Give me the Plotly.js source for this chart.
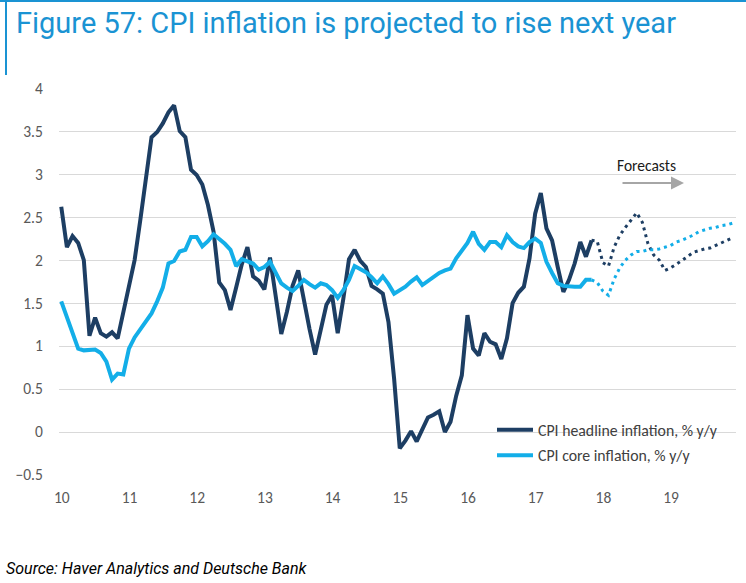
<!DOCTYPE html>
<html>
<head>
<meta charset="utf-8">
<script src="https://cdn.plot.ly/plotly-3.0.1.min.js"></script>
<style>
  html, body { margin: 0; padding: 0; background: #ffffff; }
  #chart { width: 746px; height: 583px; }
</style>
</head>
<body>
<div id="chart"></div>
<script>
// ---------------- DATA ----------------
// Monthly series starting Jan 2010 (index 0)
const startYear = 2010;
const headline = [
  2.62, 2.15, 2.28, 2.20, 2.00, 1.12, 1.33, 1.15, 1.11, 1.16, 1.09, 1.38,
  1.66, 2.00, 2.46, 2.97, 3.43, 3.49, 3.59, 3.72, 3.80, 3.50, 3.43, 3.05,
  2.99, 2.88, 2.64, 2.33, 1.74, 1.65, 1.42, 1.68, 1.95, 2.15, 1.81, 1.76,
  1.66, 2.03, 1.55, 1.14, 1.40, 1.70, 1.88, 1.52, 1.20, 0.90, 1.20, 1.48,
  1.59, 1.15, 1.55, 2.01, 2.12, 1.99, 1.92, 1.70, 1.66, 1.61, 1.28, 0.62,
  -0.19, -0.10, 0.01, -0.11, 0.03, 0.17, 0.20, 0.24, 0.00, 0.12, 0.42, 0.66,
  1.36, 0.97, 0.89, 1.15, 1.05, 1.02, 0.85, 1.09, 1.50, 1.62, 1.69, 2.02,
  2.54, 2.78, 2.37, 2.23, 1.92, 1.63, 1.77, 1.96, 2.21, 2.04, 2.23
];
const core = [
  1.52, 1.33, 1.15, 0.97, 0.95, 0.95, 0.96, 0.92, 0.82, 0.61, 0.68, 0.67,
  0.97, 1.10, 1.20, 1.28, 1.38, 1.52, 1.68, 1.96, 1.99, 2.10, 2.12, 2.27,
  2.27, 2.16, 2.22, 2.30, 2.25, 2.19, 2.12, 1.93, 2.01, 1.98, 1.96, 1.89,
  1.92, 1.98, 1.85, 1.73, 1.68, 1.64, 1.70, 1.77, 1.72, 1.68, 1.73, 1.71,
  1.65, 1.56, 1.65, 1.77, 1.93, 1.90, 1.86, 1.80, 1.73, 1.81, 1.72, 1.61,
  1.65, 1.69, 1.75, 1.80, 1.71, 1.76, 1.80, 1.85, 1.88, 1.90, 2.02, 2.12,
  2.20, 2.33, 2.19, 2.12, 2.21, 2.21, 2.15, 2.29, 2.21, 2.16, 2.14, 2.21,
  2.25, 2.20, 1.98, 1.85, 1.73, 1.70, 1.69, 1.69, 1.69, 1.77, 1.77
];
// Forecasts: monthly from Nov 2017 (index 94) to Dec 2019 (index 119)
const forecastStart = 94;
const headlineForecast = [
  2.23, 2.22, 1.97, 1.93, 2.15, 2.29, 2.38, 2.47, 2.55, 2.44, 2.19, 2.06, 2.00,
  1.88, 1.91, 1.95, 1.99, 2.04, 2.09, 2.11, 2.13, 2.14, 2.17, 2.20, 2.23, 2.26
];
const coreForecast = [
  1.77, 1.74, 1.64, 1.59, 1.78, 1.91, 2.00, 2.06, 2.10, 2.10, 2.12, 2.12, 2.13,
  2.15, 2.17, 2.21, 2.23, 2.26, 2.29, 2.33, 2.35, 2.37, 2.38, 2.40, 2.41, 2.43
];
const tickYears = [2010, 2011, 2012, 2013, 2014, 2015, 2016, 2017, 2018, 2019];
const tickLabels = ["10", "11", "12", "13", "14", "15", "16", "17", "18", "19"];
const seriesNames = ["CPI headline inflation, % y/y", "CPI core inflation, % y/y"];
const titleText = "Figure 57: CPI inflation is projected to rise next year";
const sourceText = "Source: Haver Analytics and Deutsche Bank";
const forecastLabel = "Forecasts";

// ---------------- LAYOUT HELPERS ----------------
const W = 746, H = 583;
const M = { l: 59, r: 10, t: 88, b: 108 };
const PW = W - M.l - M.r, PH = H - M.t - M.b;
const px2x = (px) => (px - M.l) / PW;          // paper x
const py2y = (py) => (H - M.b - py) / PH;      // paper y

const monthX = (i) => startYear + (i + 0.4) / 12;
const xs = (arr, off) => arr.map((_, i) => monthX(i + off));

const navy = "#1d3e63";
const sky = "#13aee8";
const blue = "#1a93d3";
const tickFont = { family: "Carlito, Lato, 'Open Sans', sans-serif", size: 15.5, color: "#595959" };

const traces = [
  { x: xs(headline, 0), y: headline, type: "scatter", mode: "lines", name: seriesNames[0],
    line: { color: navy, width: 4 }, legendgroup: "a", hoverinfo: "skip" },
  { x: xs(core, 0), y: core, type: "scatter", mode: "lines", name: seriesNames[1],
    line: { color: sky, width: 4 }, legendgroup: "b", hoverinfo: "skip" },
  { x: xs(headlineForecast, forecastStart), y: headlineForecast, type: "scatter", mode: "lines",
    showlegend: false, line: { color: navy, width: 3, dash: "3px,4px" }, hoverinfo: "skip" },
  { x: xs(coreForecast, forecastStart), y: coreForecast, type: "scatter", mode: "lines",
    showlegend: false, line: { color: sky, width: 3, dash: "3px,4px" }, hoverinfo: "skip" }
];

const layout = {
  width: W, height: H,
  margin: M,
  paper_bgcolor: "#ffffff", plot_bgcolor: "#ffffff",
  showlegend: true,
  legend: {
    x: px2x(492), xanchor: "left", y: py2y(413), yanchor: "top",
    bgcolor: "rgba(0,0,0,0)", borderwidth: 0,
    font: { family: "Carlito, Lato, sans-serif", size: 15.8, color: "#404040" },
    traceorder: "grouped", tracegroupgap: 2, itemwidth: 36
  },
  xaxis: {
    range: [2010, 2020], showgrid: false, zeroline: false, showline: false,
    tickmode: "array", tickvals: tickYears.map(y => y + 0.5 / 12), ticktext: tickLabels,
    ticks: "outside", ticklen: 8, tickcolor: "rgba(0,0,0,0)",
    tickfont: tickFont, fixedrange: true
  },
  xaxis2: {
    overlaying: "x", anchor: "free", position: 0.5 / 4.5,
    range: [2010, 2020], showgrid: false, zeroline: false, showline: false,
    tickmode: "array", tickvals: tickYears, showticklabels: false,
    ticks: "outside", ticklen: 5, tickcolor: "#c8c8c8", tickwidth: 1
  },
  yaxis: {
    range: [-0.5, 4.002], dtick: 0.5, tick0: 0, showgrid: true, gridcolor: "#d9d9d9", gridwidth: 1,
    zeroline: false, showline: false,
    ticks: "outside", ticklen: 12, tickcolor: "rgba(0,0,0,0)",
    tickfont: tickFont, fixedrange: true
  },
  shapes: [
    // blue frame of the title
    { type: "line", xref: "paper", yref: "paper", x0: px2x(0), x1: px2x(W), y0: py2y(1), y1: py2y(1),
      line: { color: blue, width: 2 } },
    { type: "line", xref: "paper", yref: "paper", x0: px2x(6), x1: px2x(6), y0: py2y(0), y1: py2y(75),
      line: { color: blue, width: 2 } },
    // white background behind the legend
    { type: "rect", xref: "paper", yref: "paper", layer: "between",
      x0: px2x(467), x1: px2x(742), y0: py2y(470), y1: py2y(404),
      fillcolor: "#ffffff", line: { width: 0 } },
    // white background behind the forecasts label
    { type: "rect", xref: "paper", yref: "paper", layer: "between",
      x0: px2x(603), x1: px2x(718), y0: py2y(194), y1: py2y(150),
      fillcolor: "#ffffff", line: { width: 0 } }
  ],
  annotations: [
    { text: titleText, xref: "paper", yref: "paper", x: px2x(14), y: py2y(23),
      xanchor: "left", yanchor: "middle", showarrow: false,
      font: { family: "Roboto, 'Noto Sans', sans-serif", size: 29, color: blue } },
    { text: sourceText, xref: "paper", yref: "paper", x: px2x(4), y: py2y(568),
      xanchor: "left", yanchor: "middle", showarrow: false,
      font: { family: "Roboto, sans-serif", size: 16, color: "#000000", style: "italic" } },
    { text: forecastLabel, xref: "paper", yref: "paper", x: px2x(646), y: py2y(165),
      xanchor: "center", yanchor: "middle", showarrow: false,
      font: { family: "Carlito, Lato, sans-serif", size: 15.5, color: "#1a1a1a" } },
    { text: "", xref: "paper", yref: "paper", x: px2x(684), y: py2y(183),
      showarrow: true, ax: -63, ay: 0, arrowcolor: "#a6a6a6", arrowwidth: 2,
      arrowhead: 2, arrowsize: 1.3 }
  ]
};

Plotly.newPlot("chart", traces, layout, { staticPlot: true, displayModeBar: false });
</script>
</body>
</html>
